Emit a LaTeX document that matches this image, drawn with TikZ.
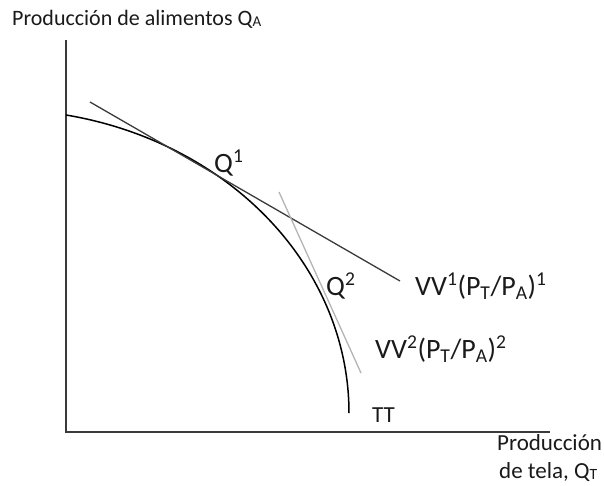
\documentclass[tikz,border=0pt]{standalone}
\usepackage{fontspec}
\setmainfont{Carlito}
\definecolor{ink}{HTML}{1A1A1A}
\definecolor{axis}{HTML}{3A3A3A}
\definecolor{lightline}{HTML}{B4B4B4}
\newcommand{\lowsub}[1]{\raisebox{-0.08em}{\scalebox{0.68}{#1}}}
\tikzset{
  axisline/.style={draw=axis, line width=1.4pt},
  curveline/.style={draw=black, line width=1.5pt},
  tanone/.style={draw=axis, line width=1.3pt},
  tantwo/.style={draw=lightline, line width=1.3pt},
  bigtxt/.style={text=ink, inner sep=0pt, font=\fontsize{28}{32}\selectfont},
  titletxt/.style={text=ink, inner sep=0pt, font=\fontsize{22}{26}\selectfont},
  smalltxt/.style={text=ink, inner sep=0pt, font=\fontsize{23}{27}\selectfont},
}
\begin{document}
\begin{tikzpicture}[x=1pt,y=-1pt]
\useasboundingbox (0,0) rectangle (604,485);
% axes
\coordinate (ytop) at (66,40);
\coordinate (origin) at (66,432);
\coordinate (xend) at (550,432);
\draw[axisline] (ytop) -- (origin) -- (xend);
% transformation curve TT
\draw[curveline] plot[domain=79.1:0, samples=80, smooth] ({349*cos(\x)},{413-303.5*sin(\x)});
% price lines
\coordinate (a1) at (90,102);
\coordinate (b1) at (400,281);
\draw[tanone] (a1) -- (b1);
\coordinate (a2) at (279,192);
\coordinate (b2) at (361,373);
\draw[tantwo] (a2) -- (b2);
% labels
\node[titletxt, anchor=base west] (ylab) at (12,25) {Producción de alimentos Q\lowsub{A}};
\node[bigtxt, anchor=base west] (q1) at (214,172) {Q\textsuperscript{1}};
\node[bigtxt, anchor=base west] (q2) at (326,295) {Q\textsuperscript{2}};
\node[bigtxt, anchor=base west] (vv1) at (415,295) {VV\textsuperscript{1}(P\textsubscript{T}/P\textsubscript{A})\textsuperscript{1}};
\node[bigtxt, anchor=base west] (vv2) at (375,358) {VV\textsuperscript{2}(P\textsubscript{T}/P\textsubscript{A})\textsuperscript{2}};
\node[smalltxt, anchor=base west] (tt) at (372,422) {TT};
\node[smalltxt, anchor=base west] (xlab1) at (497,450) {Producción};
\node[smalltxt, anchor=base west] (xlab2) at (499,478) {de tela, Q\lowsub{T}};
\end{tikzpicture}
\end{document}
